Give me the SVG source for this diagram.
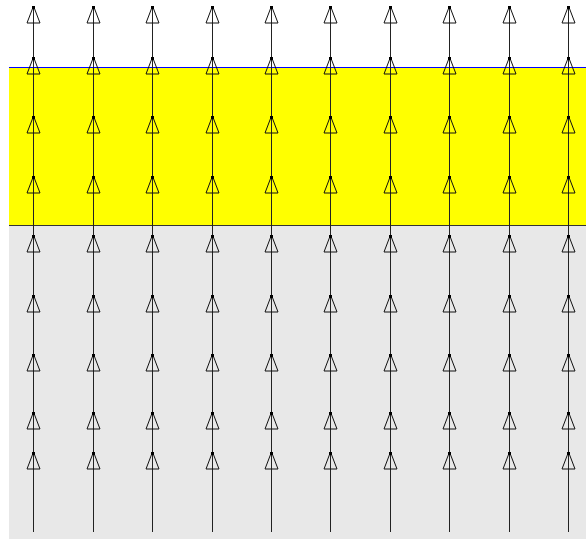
<svg xmlns="http://www.w3.org/2000/svg" xmlns:xlink="http://www.w3.org/1999/xlink" width="586" height="539" viewBox="0 0 586 539">
<style>
.ln{stroke:#222;stroke-width:1;fill:none}
.ah{stroke:#111;stroke-width:1;fill:none}
.dot{fill:#000}
</style>
<defs>
<g id="arr">
<polygon class="ah" points="0,0 -6.5,17 6.5,17"/>
<rect class="dot" x="-1.5" y="0" width="3" height="3"/>
</g>
<g id="col">
<line class="ln" x1="0" y1="6" x2="0" y2="532"/>
<use xlink:href="#arr" y="6"/>
<use xlink:href="#arr" y="57"/>
<use xlink:href="#arr" y="116"/>
<use xlink:href="#arr" y="176"/>
<use xlink:href="#arr" y="235"/>
<use xlink:href="#arr" y="295"/>
<use xlink:href="#arr" y="354"/>
<use xlink:href="#arr" y="412"/>
<use xlink:href="#arr" y="452"/>
</g>
</defs>
<rect x="0" y="0" width="586" height="539" fill="#ffffff"/>
<g id="layer-yellow">
<rect x="9" y="67.5" width="577" height="158" fill="#ffff00"/>
<line x1="9" y1="67.5" x2="586" y2="67.5" stroke="#0000ff" stroke-width="1"/>
</g>
<g id="layer-gray">
<rect x="9" y="226" width="577" height="313" fill="#e8e8e8"/>
<line x1="9" y1="225.5" x2="586" y2="225.5" stroke="#333" stroke-width="1"/>
</g>
<g id="connectors">
<use xlink:href="#col" x="33.5"/>
<use xlink:href="#col" x="93.5"/>
<use xlink:href="#col" x="152.5"/>
<use xlink:href="#col" x="212.5"/>
<use xlink:href="#col" x="271.5"/>
<use xlink:href="#col" x="330.5"/>
<use xlink:href="#col" x="390.5"/>
<use xlink:href="#col" x="449.5"/>
<use xlink:href="#col" x="509.5"/>
<use xlink:href="#col" x="568.5"/>
</g>
</svg>
